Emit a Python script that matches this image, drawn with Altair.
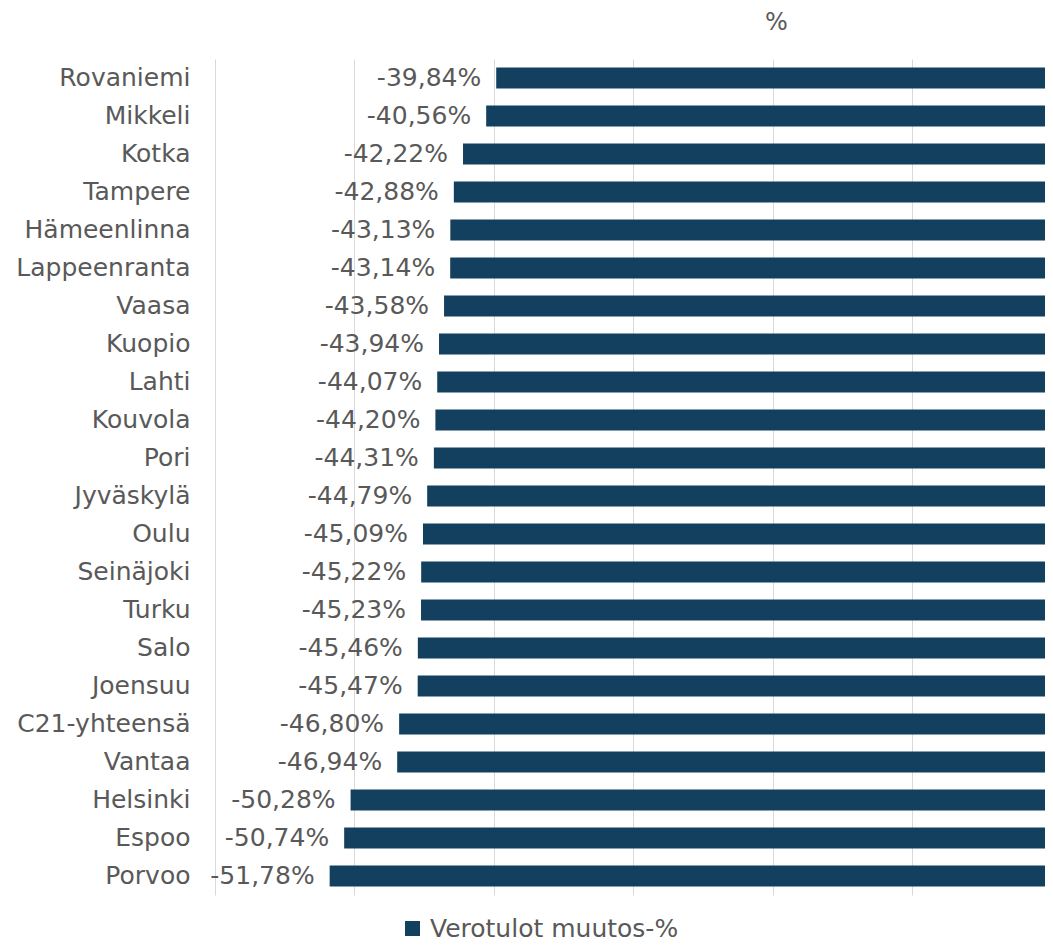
import altair as alt
import pandas as pd

cities = ["Rovaniemi", "Mikkeli", "Kotka", "Tampere", "Hämeenlinna", "Lappeenranta",
          "Vaasa", "Kuopio", "Lahti", "Kouvola", "Pori", "Jyväskylä", "Oulu",
          "Seinäjoki", "Turku", "Salo", "Joensuu", "C21-yhteensä", "Vantaa",
          "Helsinki", "Espoo", "Porvoo"]
values = [-39.84, -40.56, -42.22, -42.88, -43.13, -43.14, -43.58, -43.94, -44.07,
          -44.20, -44.31, -44.79, -45.09, -45.22, -45.23, -45.46, -45.47, -46.80,
          -46.94, -50.28, -50.74, -51.78]
series_name = "Verotulot muutos-%"
grid_values = [-60, -50, -40, -30, -20, -10]

df = pd.DataFrame({
    "city": cities,
    "value": values,
    "zero": [0] * len(values),
    "label": [f"{v:.2f}".replace(".", ",") + "%" for v in values],
    "series": [series_name] * len(values),
})

FONT = "DejaVu Sans"
TXT = "#595959"
BAR = "#13405f"

# visible part of the axis (the chart is cropped just before 0 on the right)
xscale = alt.Scale(domain=[-60, -0.5], nice=False, zero=False)
yscale = alt.Scale(paddingInner=0.45, paddingOuter=0.225)

base = alt.Chart(df)

bars = base.mark_bar().encode(
    x=alt.X("value:Q", scale=xscale,
            axis=alt.Axis(orient="top", values=grid_values, labels=False, ticks=False,
                          domain=False, grid=True, gridColor="#d9d9d9", gridWidth=1,
                          title="%", titleFont=FONT, titleFontSize=24, titleFontWeight="normal",
                          titleColor=TXT, titleX=561, titleY=-37, titleAlign="center",
                          titleBaseline="middle")),
    x2="zero:Q",
    y=alt.Y("city:N", sort=cities, scale=yscale,
            axis=alt.Axis(title=None, ticks=False, domain=False, labelPadding=25,
                          labelFont=FONT, labelFontSize=25, labelColor=TXT, labelLimit=400)),
    color=alt.Color("series:N", scale=alt.Scale(range=[BAR]),
                    legend=alt.Legend(title=None, orient="none", legendX=185, legendY=857,
                                      symbolType="square", symbolSize=225, symbolStrokeWidth=0,
                                      labelFont=FONT, labelFontSize=25, labelColor=TXT,
                                      labelLimit=600, padding=0, labelOffset=5)),
)

labels = base.mark_text(align="right", baseline="middle", dx=-15, font=FONT,
                        fontSize=25, color=TXT).encode(
    x=alt.X("value:Q", scale=xscale),
    y=alt.Y("city:N", sort=cities, scale=yscale),
    text="label:N",
)

chart = alt.layer(bars, labels).properties(
    width=830, height=836,
    autosize=alt.AutoSizeParams(type="none"),
    padding={"left": 207, "top": 51, "right": 0, "bottom": 49},
).configure_view(stroke=None)

chart.save("out.html", embed_options={"renderer": "svg", "actions": False})
